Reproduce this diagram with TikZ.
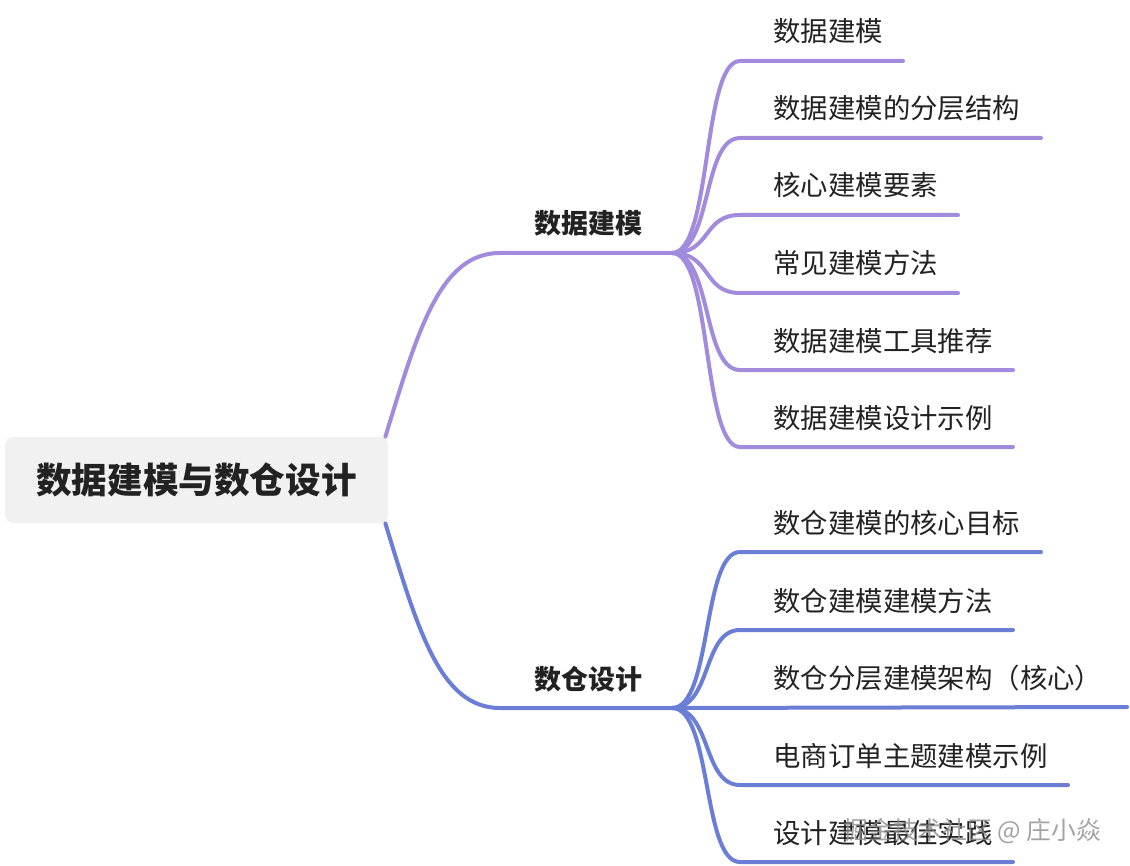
\documentclass[tikz,border=0pt]{standalone}
\usepackage{fontspec}
\setmainfont{Noto Sans CJK SC}
\newfontfamily\cjk{Noto Sans CJK SC}
\usetikzlibrary{calc,positioning}
\definecolor{mmpurple}{RGB}{162,139,221}
\definecolor{mmblue}{RGB}{106,126,214}
\definecolor{mmtext}{RGB}{34,34,34}
\definecolor{mmroot}{RGB}{240,241,240}

\begin{document}
\begin{tikzpicture}[x=0.5pt,y=-0.5pt,
    rootbox/.style={fill=mmroot,rounded corners=4pt,minimum width=191.5pt,minimum height=43pt,font=\cjk\bfseries\fontsize{17.8}{20}\selectfont,text=mmtext},
    branch/.style={anchor=base,font=\cjk\bfseries\fontsize{13.5}{15}\selectfont,text=mmtext},
    leaf/.style={anchor=base west,inner sep=0pt,font=\cjk\fontsize{13.7}{15}\selectfont,text=mmtext},
    link/.style={line width=2pt,line cap=round}]
        \useasboundingbox (0,0) rectangle (1130,866);
        \node[rootbox] (root) at (196.5,480) {数据建模与数仓设计};
        % main branches
        \coordinate (dmL) at (500,253); \coordinate (dmR) at (672,253);
        \coordinate (dwL) at (500,708); \coordinate (dwR) at (672,708);
        \node[branch] (dm) at (588,234) {数据建模};
        \node[branch] (dw) at (588,689) {数仓设计};
        \draw[link,mmpurple] ($(root.north east)+(-3,0)$) .. controls (418,330) and (440,253) .. (dmL) -- (dmR);
        \draw[link,mmblue] ($(root.south east)+(-3,0)$) .. controls (418,630) and (440,708) .. (dwL) -- (dwR);
        % leaves of the first branch
        \node[leaf] (dm1) at (773,42) {数据建模};
        \node[leaf] (dm2) at (773,119) {数据建模的分层结构};
        \node[leaf] (dm3) at (773,196) {核心建模要素};
        \node[leaf] (dm4) at (773,274) {常见建模方法};
        \node[leaf] (dm5) at (773,351) {数据建模工具推荐};
        \node[leaf] (dm6) at (773,428) {数据建模设计示例};
        \draw[link,mmpurple] (dmR) .. controls (712,253) and (702,61) .. (740,61) -- (903,61);
        \draw[link,mmpurple] (dmR) .. controls (712,253) and (702,138) .. (740,138) -- (1041,138);
        \draw[link,mmpurple] (dmR) .. controls (712,253) and (702,215) .. (740,215) -- (958,215);
        \draw[link,mmpurple] (dmR) .. controls (712,253) and (702,293) .. (740,293) -- (958,293);
        \draw[link,mmpurple] (dmR) .. controls (712,253) and (702,370) .. (740,370) -- (1013,370);
        \draw[link,mmpurple] (dmR) .. controls (712,253) and (702,447) .. (740,447) -- (1013,447);
        % leaves of the second branch
        \node[leaf] (dw1) at (773,533) {数仓建模的核心目标};
        \node[leaf] (dw2) at (773,611) {数仓建模建模方法};
        \node[leaf] (dw3) at (773,688) {数仓分层建模架构（核心）};
        \node[leaf] (dw4) at (773,766) {电商订单主题建模示例};
        \node[leaf] (dw5) at (773,843) {设计建模最佳实践};
        \draw[link,mmblue] (dwR) .. controls (712,708) and (702,552) .. (740,552) -- (1041,552);
        \draw[link,mmblue] (dwR) .. controls (712,708) and (702,630) .. (740,630) -- (1013,630);
        \draw[link,mmblue] (dwR) -- (1127,707);
        \draw[link,mmblue] (dwR) .. controls (712,708) and (702,785) .. (740,785) -- (1068,785);
        \draw[link,mmblue] (dwR) .. controls (712,708) and (702,862) .. (740,862) -- (1013,862);
        % watermark
        \node[leaf,text=black!45,opacity=0.8,font=\cjk\fontsize{12.4}{14}\selectfont] (wm) at (843,839) {掘金技术社区 @ 庄小焱};
\end{tikzpicture}
\end{document}
